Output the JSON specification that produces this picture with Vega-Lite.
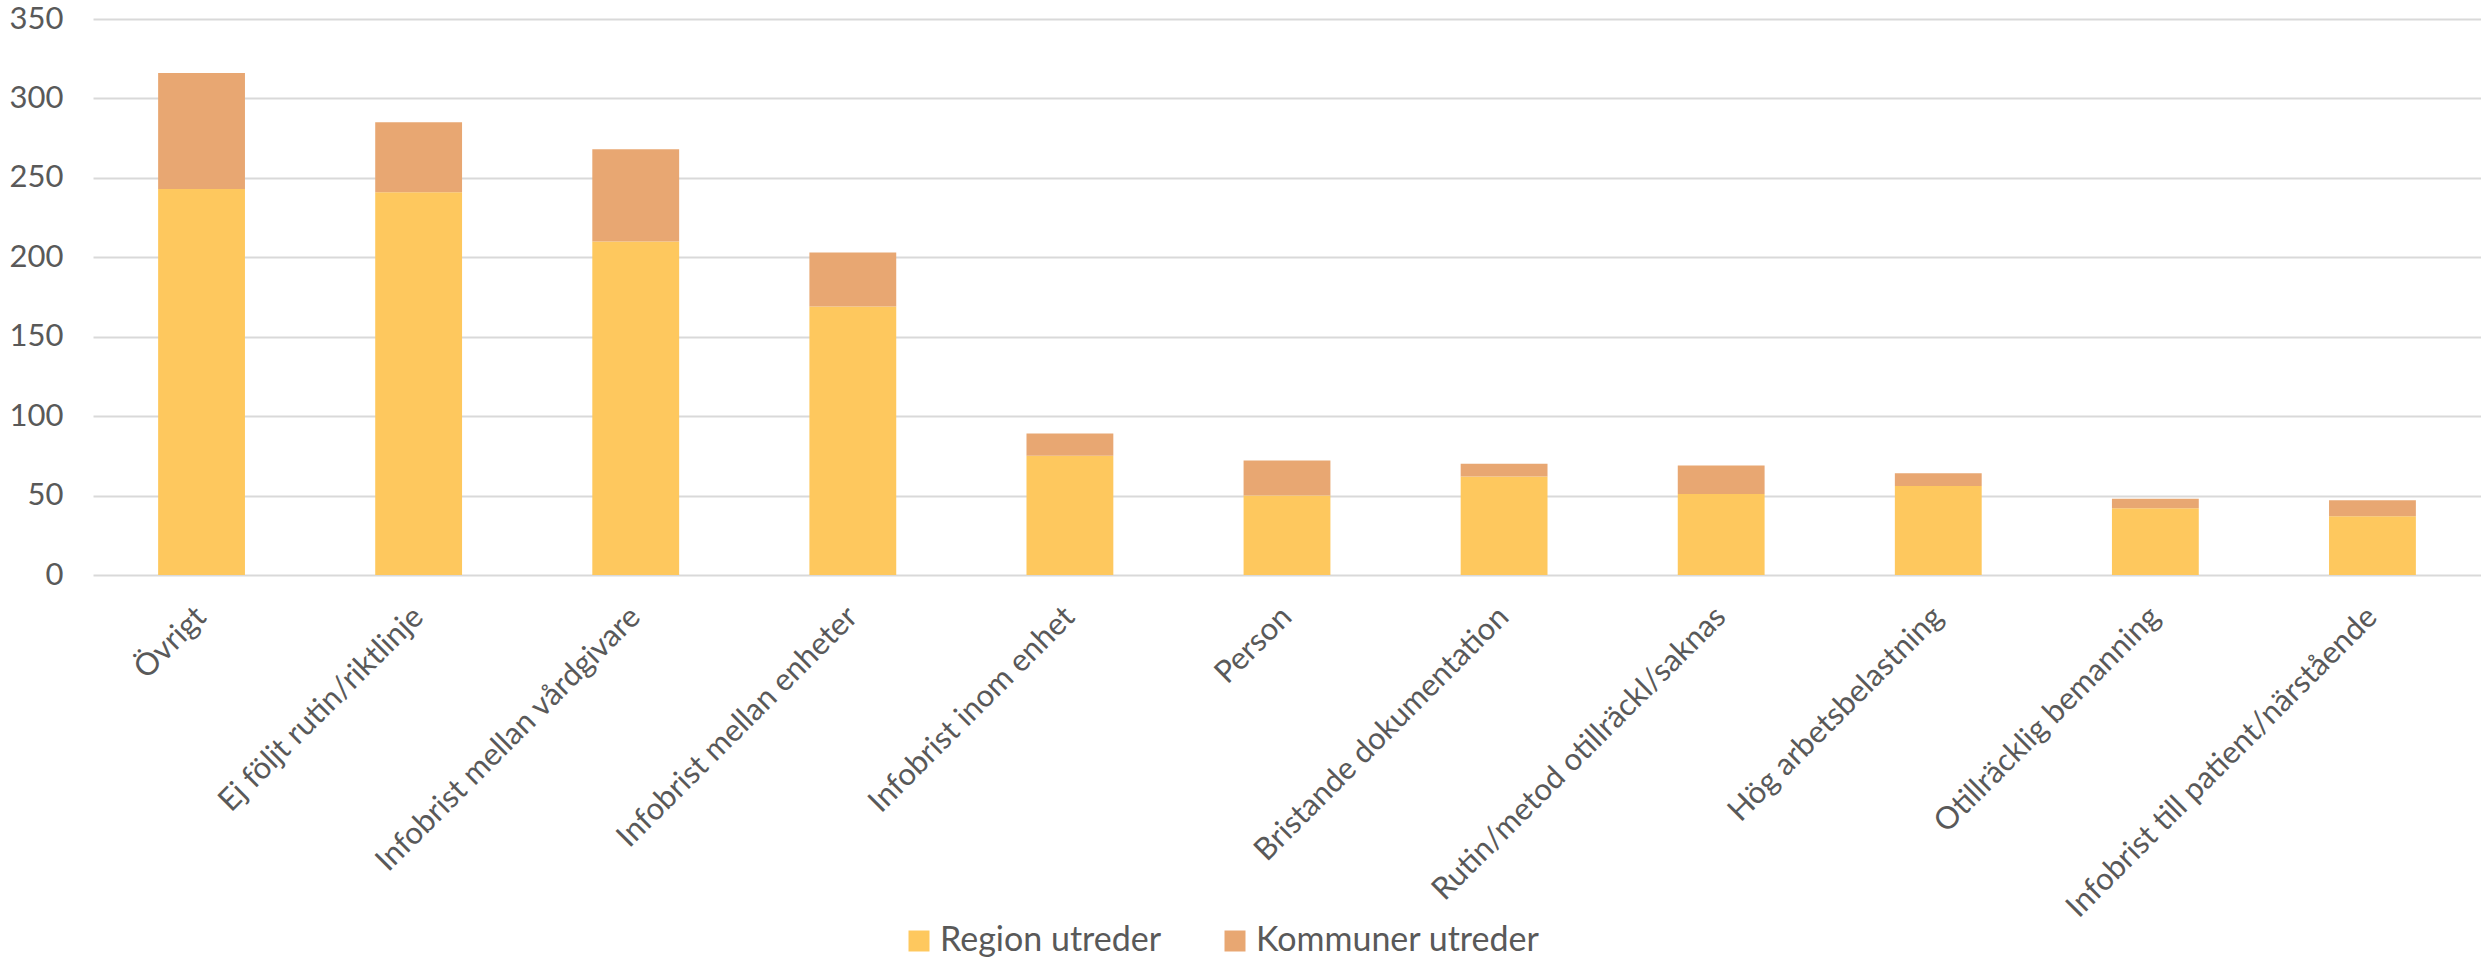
{
  "$schema": "https://vega.github.io/schema/vega-lite/v6.json",
  "width": 2388,
  "height": 556,
  "autosize": {"type": "none"},
  "padding": {"left": 93, "top": 19, "right": 0, "bottom": 385},
  "background": "white",
  "config": {
    "view": {"stroke": null},
    "font": "Lato",
    "axis": {"labelFont": "Lato", "labelColor": "#595959", "labelFontSize": 31},
    "legend": {"labelFont": "Lato", "labelColor": "#595959", "labelFontSize": 34}
  },
  "data": {
    "values": [
      {"orsak": "Övrigt", "utredare": "Region utreder", "antal": 243, "ord": 1},
      {"orsak": "Övrigt", "utredare": "Kommuner utreder", "antal": 73, "ord": 2},
      {"orsak": "Ej följt rutin/riktlinje", "utredare": "Region utreder", "antal": 241, "ord": 1},
      {"orsak": "Ej följt rutin/riktlinje", "utredare": "Kommuner utreder", "antal": 44, "ord": 2},
      {"orsak": "Infobrist mellan vårdgivare", "utredare": "Region utreder", "antal": 210, "ord": 1},
      {"orsak": "Infobrist mellan vårdgivare", "utredare": "Kommuner utreder", "antal": 58, "ord": 2},
      {"orsak": "Infobrist mellan enheter", "utredare": "Region utreder", "antal": 169, "ord": 1},
      {"orsak": "Infobrist mellan enheter", "utredare": "Kommuner utreder", "antal": 34, "ord": 2},
      {"orsak": "Infobrist inom enhet", "utredare": "Region utreder", "antal": 75, "ord": 1},
      {"orsak": "Infobrist inom enhet", "utredare": "Kommuner utreder", "antal": 14, "ord": 2},
      {"orsak": "Person", "utredare": "Region utreder", "antal": 50, "ord": 1},
      {"orsak": "Person", "utredare": "Kommuner utreder", "antal": 22, "ord": 2},
      {"orsak": "Bristande dokumentation", "utredare": "Region utreder", "antal": 62, "ord": 1},
      {"orsak": "Bristande dokumentation", "utredare": "Kommuner utreder", "antal": 8, "ord": 2},
      {"orsak": "Rutin/metod otillräckl/saknas", "utredare": "Region utreder", "antal": 51, "ord": 1},
      {"orsak": "Rutin/metod otillräckl/saknas", "utredare": "Kommuner utreder", "antal": 18, "ord": 2},
      {"orsak": "Hög arbetsbelastning", "utredare": "Region utreder", "antal": 56, "ord": 1},
      {"orsak": "Hög arbetsbelastning", "utredare": "Kommuner utreder", "antal": 8, "ord": 2},
      {"orsak": "Otillräcklig bemanning", "utredare": "Region utreder", "antal": 42, "ord": 1},
      {"orsak": "Otillräcklig bemanning", "utredare": "Kommuner utreder", "antal": 6, "ord": 2},
      {"orsak": "Infobrist till patient/närstående", "utredare": "Region utreder", "antal": 37, "ord": 1},
      {"orsak": "Infobrist till patient/närstående", "utredare": "Kommuner utreder", "antal": 10, "ord": 2}
    ]
  },
  "mark": {"type": "bar"},
  "encoding": {
    "x": {
      "field": "orsak",
      "type": "nominal",
      "sort": null,
      "scale": {"paddingInner": 0.6, "paddingOuter": 0.3},
      "axis": {
        "title": null,
        "domain": false,
        "ticks": false,
        "labelAngle": -45,
        "labelAlign": "right",
        "labelBaseline": "middle",
        "labelPadding": 37,
        "labelDy": 24,
        "labelLimit": 0
      }
    },
    "y": {
      "field": "antal",
      "type": "quantitative",
      "stack": "zero",
      "scale": {"domain": [0, 350], "nice": false},
      "axis": {
        "title": null,
        "values": [0, 50, 100, 150, 200, 250, 300, 350],
        "domain": false,
        "ticks": false,
        "labelPadding": 30,
        "gridColor": "#d9d9d9",
        "gridWidth": 2
      }
    },
    "color": {
      "field": "utredare",
      "type": "nominal",
      "scale": {"domain": ["Region utreder", "Kommuner utreder"], "range": ["#FEC85E", "#E8A772"]},
      "legend": {
        "title": null,
        "orient": "none",
        "direction": "horizontal",
        "legendX": 809,
        "legendY": 905,
        "symbolType": "square",
        "symbolSize": 441,
        "symbolStrokeWidth": 0,
        "symbolOpacity": 1,
        "labelOffset": 4,
        "labelLimit": 0,
        "columnPadding": 56
      }
    },
    "order": {"field": "ord", "type": "quantitative"}
  }
}
